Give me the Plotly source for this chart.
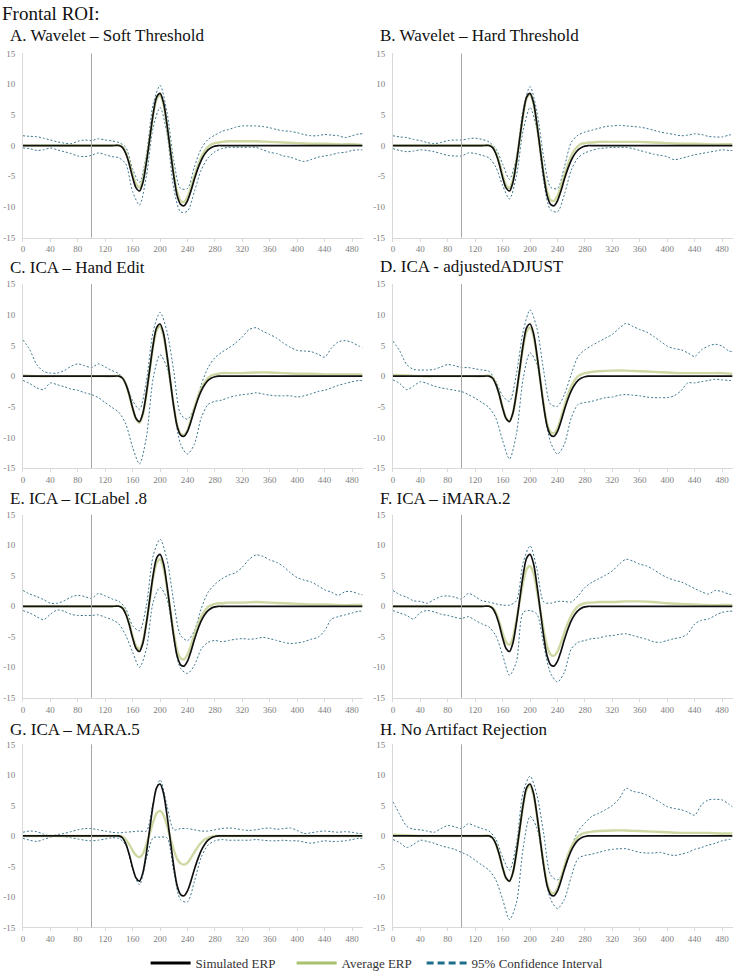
import plotly.graph_objects as go

# ---------------- data ----------------
t_erp = [0, 20, 40, 60, 80, 100, 120, 130,
         140, 145, 150, 155, 160, 165, 170, 175, 180, 185, 190, 195, 200, 205, 210, 215, 220,
         225, 230, 235, 240, 245, 250, 255, 260, 265, 270, 275, 280, 285, 290,
         300, 320, 340, 360, 380, 400, 420, 440, 460, 480, 495]

t_ci = [0, 10, 20, 30, 40, 50, 60, 70, 80, 90, 100, 110, 120, 130, 140, 150, 160, 170, 180, 190,
        200, 210, 220, 230, 240, 250, 260, 270, 280, 290, 300, 310, 320, 330, 340, 350, 360, 370,
        380, 390, 400, 410, 420, 430, 440, 450, 460, 470, 480, 490, 495]

sim_erp = [0, 0, 0, 0, 0, 0, 0, 0,
           0, -0.3, -1.3, -3.0, -5.2, -6.9, -7.4, -6.0, -2.8, 1.2, 5.2, 7.9, 8.5, 7.0, 3.5, -0.8, -5.0,
           -8.2, -9.6, -9.8, -9.0, -7.4, -5.5, -3.8, -2.4, -1.4, -0.7, -0.3, -0.1, 0, 0,
           0, 0, 0, 0, 0, 0, 0, 0, 0, 0, 0]

avg_A = [0, 0, 0, 0, 0, 0, 0, 0,
         0.05, -0.2, -1.1, -2.7, -4.7, -6.3, -6.8, -5.5, -2.5, 1.2, 5.0, 7.6, 8.2, 6.7, 3.3, -0.7, -4.6,
         -7.6, -9.0, -9.2, -8.4, -6.8, -5.0, -3.3, -1.9, -0.9, -0.2, 0.2, 0.4, 0.5, 0.6,
         0.7, 0.7, 0.7, 0.6, 0.5, 0.4, 0.3, 0.3, 0.2, 0.2, 0.1]
avg_B = [0, 0, 0, 0, 0, 0, 0, 0,
         0.05, -0.2, -1.1, -2.7, -4.8, -6.4, -6.9, -5.6, -2.6, 1.2, 5.0, 7.7, 8.3, 6.8, 3.3, -0.7, -4.6,
         -7.5, -8.9, -9.0, -8.2, -6.6, -4.8, -3.1, -1.7, -0.7, -0.1, 0.3, 0.4, 0.5, 0.5,
         0.6, 0.6, 0.6, 0.6, 0.5, 0.4, 0.3, 0.3, 0.2, 0.2, 0.2]
avg_C = [0.1, 0, 0, 0, 0, 0, 0, 0,
         0.05, -0.3, -1.3, -3.1, -5.3, -7.0, -7.6, -6.2, -3.0, 1.0, 4.9, 7.5, 8.1, 6.6, 3.2, -0.8, -4.9,
         -8.0, -9.4, -9.6, -8.8, -7.1, -5.2, -3.4, -2.0, -1.0, -0.3, 0.1, 0.3, 0.4, 0.5,
         0.5, 0.5, 0.6, 0.6, 0.5, 0.4, 0.4, 0.3, 0.3, 0.3, 0.3]
avg_D = [0.2, 0.1, 0, 0, 0, 0, 0, 0,
         0.1, -0.2, -1.2, -2.9, -5.1, -6.8, -7.3, -6.0, -2.9, 1.0, 4.8, 7.3, 7.9, 6.5, 3.2, -0.7, -4.7,
         -7.8, -9.1, -9.3, -8.5, -6.8, -4.9, -3.1, -1.7, -0.7, 0.0, 0.3, 0.5, 0.6, 0.7,
         0.8, 0.9, 0.9, 0.8, 0.7, 0.6, 0.5, 0.5, 0.5, 0.5, 0.4]
avg_E = [0, 0, 0, 0, 0, 0, 0, 0,
         0.05, -0.2, -1.1, -2.8, -4.9, -6.5, -7.0, -5.7, -2.7, 1.0, 4.7, 7.1, 7.7, 6.3, 3.1, -0.6, -4.4,
         -7.3, -8.5, -8.7, -7.9, -6.4, -4.6, -3.0, -1.7, -0.8, -0.1, 0.2, 0.4, 0.5, 0.5,
         0.6, 0.6, 0.7, 0.6, 0.5, 0.4, 0.3, 0.3, 0.2, 0.2, 0.2]
avg_F = [0, 0, 0, 0, 0, 0, 0, 0,
         0.05, -0.2, -1.0, -2.5, -4.4, -5.9, -6.3, -5.1, -2.3, 0.9, 4.0, 6.1, 6.6, 5.4, 2.6, -0.6, -4.0,
         -6.6, -7.9, -8.1, -7.4, -6.0, -4.3, -2.8, -1.5, -0.6, 0.0, 0.3, 0.5, 0.6, 0.6,
         0.7, 0.7, 0.8, 0.8, 0.7, 0.5, 0.4, 0.3, 0.2, 0.2, 0.2]
avg_G = [0, 0, 0, 0, 0, 0, 0, 0,
         0.0, -0.1, -0.6, -1.4, -2.4, -3.2, -3.5, -2.9, -1.4, 0.4, 2.3, 3.7, 4.1, 3.4, 1.7, -0.3, -2.3,
         -3.8, -4.5, -4.7, -4.4, -3.6, -2.7, -1.8, -1.1, -0.6, -0.3, -0.1, 0.0, 0.0, 0.0,
         0, 0, 0, 0, 0, 0, 0, 0, 0, 0, 0]
avg_H = [0.2, 0.1, 0, 0, 0, 0, 0, 0,
         0.05, -0.3, -1.3, -3.0, -5.2, -6.9, -7.4, -6.1, -2.9, 1.1, 5.0, 7.6, 8.2, 6.7, 3.3, -0.7, -4.7,
         -7.8, -9.2, -9.4, -8.6, -6.9, -5.0, -3.2, -1.8, -0.8, -0.1, 0.3, 0.5, 0.6, 0.7,
         0.8, 0.9, 0.9, 0.8, 0.7, 0.6, 0.5, 0.5, 0.5, 0.4, 0.4]

ci_hi_A = [1.6, 1.5, 1.45, 1.2, 0.9, 0.6, 0.4, 0.3, 0.7, 0.9, 0.8, 1.1, 0.9, 0.75, 0.5, -0.3, -3.8,
           -6.0, -1.5, 6.8, 9.8, 5.5, -2.5, -7.0, -7.0, -3.5, -0.5, 1.0, 1.7, 2.3, 2.6, 3.0, 3.2, 3.2,
           3.2, 3.1, 2.9, 2.6, 2.4, 2.3, 2.1, 1.8, 1.6, 1.6, 1.8, 1.7, 1.6, 1.3, 1.6, 1.9, 1.9]
ci_lo_A = [-0.4, -0.5, -0.8, -0.7, -0.4, -0.7, -1.0, -1.3, -1.7, -1.8, -1.6, -1.2, -1.5, -1.8, -2.0,
           -3.0, -7.5, -9.7, -5.0, 3.0, 6.2, 2.0, -7.0, -10.8, -10.7, -7.5, -4.0, -2.0, -1.0, -0.5,
           -0.3, -0.3, -0.3, -0.3, -0.3, -0.7, -1.1, -1.3, -1.7, -1.9, -2.3, -2.6, -2.3, -1.9, -1.7,
           -1.5, -1.2, -1.1, -0.8, -0.7, -0.7]
ci_hi_B = [1.6, 1.4, 1.3, 1.0, 0.8, 0.5, 0.3, 0.5, 0.8, 0.9, 0.9, 1.1, 1.2, 1.0, 0.6, -0.5, -3.0,
           -5.5, -2.0, 6.0, 9.6, 5.5, -2.0, -6.8, -7.0, -3.5, 0.5, 1.7, 2.2, 2.5, 2.8, 3.1, 3.2, 3.3,
           3.2, 3.1, 3.0, 2.8, 2.5, 2.2, 2.0, 1.8, 1.6, 1.7, 1.9, 1.8, 1.5, 1.4, 1.4, 1.7, 1.8]
ci_lo_B = [-0.5, -0.8, -1.0, -0.9, -0.7, -0.8, -1.0, -1.3, -1.6, -1.7, -1.7, -1.2, -1.3, -1.6, -2.0,
           -3.5, -6.5, -8.7, -5.0, 2.5, 6.2, 2.5, -6.0, -10.5, -10.8, -8.0, -4.0, -2.0, -1.2, -0.8,
           -0.5, -0.4, -0.3, -0.3, -0.3, -0.5, -0.8, -1.1, -1.4, -1.6, -1.8, -2.3, -2.1, -1.8, -1.5,
           -1.3, -1.1, -0.9, -0.7, -0.8, -0.8]
ci_hi_C = [5.9, 4.3, 1.9, 0.8, 0.5, 0.5, 0.9, 1.6, 2.0, 1.7, 1.4, 2.0, 1.5, 0.9, 0.4, -1.1, -4.0,
           -5.4, -0.8, 7.3, 10.4, 7.3, 0.8, -6.2, -7.0, -5.1, -1.4, 1.4, 3.0, 3.9, 4.6, 5.4, 6.4, 7.6,
           7.9, 7.3, 6.8, 6.2, 5.4, 4.7, 4.2, 4.1, 4.0, 3.6, 3.1, 4.6, 5.6, 5.8, 5.5, 4.9, 4.7]
ci_lo_C = [-0.7, -1.2, -1.9, -2.2, -1.1, -1.4, -1.7, -2.1, -2.3, -2.7, -3.0, -3.5, -4.3, -5.1, -5.9,
           -7.8, -11.6, -14.3, -10.0, -0.3, 3.5, 1.4, -5.1, -11.1, -12.7, -11.1, -6.8, -4.6, -4.1,
           -3.9, -3.5, -3.2, -3.0, -2.9, -2.7, -2.9, -3.1, -3.2, -3.2, -3.2, -3.4, -3.2, -2.9, -2.5,
           -2.3, -1.9, -1.5, -1.2, -0.9, -0.7, -0.7]
ci_hi_D = [5.7, 4.1, 1.9, 1.1, 1.0, 1.0, 1.1, 1.5, 1.9, 1.7, 1.4, 1.4, 1.2, 1.0, 0.8, -0.8, -3.2,
           -4.1, 0.3, 7.3, 10.8, 7.8, 0.8, -4.6, -4.9, -3.0, 0.3, 3.2, 4.3, 5.0, 5.6, 6.2, 6.8, 7.8,
           8.6, 8.1, 7.6, 7.2, 6.5, 5.7, 4.9, 4.5, 4.3, 3.8, 3.2, 4.3, 4.9, 5.2, 4.9, 4.1, 4.0]
ci_lo_D = [-0.6, -1.2, -2.2, -1.6, -0.9, -1.2, -1.6, -1.9, -2.1, -2.3, -2.5, -3.0, -3.6, -4.3, -5.1,
           -6.8, -10.5, -13.5, -9.5, -0.3, 3.8, 1.9, -5.1, -10.8, -12.7, -11.1, -6.8, -4.6, -4.3,
           -4.1, -3.8, -3.5, -3.4, -3.1, -3.0, -3.1, -3.2, -3.4, -3.5, -3.5, -3.5, -3.2, -2.4, -1.1,
           -1.1, -0.9, -0.7, -0.5, -0.6, -0.7, -0.7]
ci_hi_E = [2.6, 2.0, 1.6, 1.1, 0.5, 0.5, 0.9, 1.5, 1.8, 1.6, 1.3, 2.1, 1.7, 1.2, 0.8, -0.4, -3.2,
           -4.0, 0.1, 8.3, 11.0, 7.7, 0.7, -4.8, -5.6, -4.0, -0.4, 2.3, 3.6, 4.5, 5.1, 5.5, 6.4, 7.7,
           8.4, 8.2, 7.6, 7.2, 6.5, 5.5, 4.7, 4.3, 4.0, 3.4, 2.7, 2.3, 1.8, 2.4, 2.4, 2.0, 1.9]
ci_lo_E = [-0.7, -1.1, -1.7, -2.2, -1.3, -0.6, -0.8, -1.3, -1.5, -1.5, -1.5, -1.4, -1.8, -2.2, -2.9,
           -4.8, -7.5, -10.0, -7.0, 0.7, 3.1, 1.2, -5.3, -10.2, -11.0, -9.7, -7.0, -5.9, -5.6, -5.8,
           -5.6, -5.4, -5.3, -5.4, -5.3, -5.1, -5.3, -5.6, -5.9, -6.1, -6.0, -5.8, -5.4, -5.1, -4.0,
           -2.1, -1.7, -1.4, -1.1, -0.8, -0.8]
ci_hi_F = [2.6, 1.9, 1.5, 0.9, 0.8, 0.5, 1.1, 1.6, 1.7, 1.5, 1.2, 2.1, 1.6, 0.9, 0.7, 0.4, 0.2,
           0.2, 0.9, 7.2, 9.9, 6.1, 0.7, 0.5, 0.8, 0.8, 0.7, 1.7, 3.1, 3.9, 4.5, 5.1, 5.8, 6.9, 7.7,
           7.4, 6.9, 6.6, 6.0, 5.3, 4.7, 4.3, 4.0, 3.5, 2.9, 2.4, 2.0, 2.6, 2.4, 2.0, 1.9]
ci_lo_F = [-0.7, -1.1, -1.5, -2.1, -1.0, -0.7, -0.9, -1.3, -1.5, -1.8, -2.0, -1.7, -2.3, -2.9, -3.4,
           -4.8, -8.0, -11.3, -9.1, -1.0, -0.7, -1.3, -6.4, -11.0, -12.4, -10.8, -7.0, -5.9, -5.6,
           -5.3, -5.2, -4.9, -4.8, -4.6, -4.5, -4.8, -5.1, -5.4, -5.8, -5.9, -5.6, -5.3, -5.1, -4.5,
           -2.9, -2.3, -2.1, -1.5, -1.0, -0.8, -0.8]
ci_hi_G = [0.6, 0.8, 0.7, 0.3, 0.0, 0.2, 0.4, 0.7, 1.0, 1.2, 1.2, 1.0, 0.8, 0.6, 0.5, 0.6, 0.7,
           0.8, 0.8, 5.5, 9.2, 5.0, 1.0, 1.2, 1.2, 1.0, 0.8, 0.8, 1.0, 1.2, 1.3, 1.2, 1.0, 0.9, 1.0,
           1.2, 1.3, 1.1, 1.2, 1.3, 0.9, 0.4, 0.5, 0.7, 0.8, 0.7, 0.6, 0.7, 0.6, 0.4, 0.4]
ci_lo_G = [-0.4, -0.7, -0.9, -0.6, -0.2, 0.0, -0.1, -0.3, -0.5, -0.7, -0.8, -0.7, -0.5, -0.3, -0.4,
           -1.5, -5.5, -8.0, -3.8, -0.3, -0.2, -0.3, -5.8, -10.5, -10.8, -7.5, -3.5, -1.5, -0.8, -0.6,
           -0.7, -0.7, -0.7, -0.7, -0.6, -0.7, -0.8, -0.8, -0.7, -0.8, -0.8, -1.0, -1.2, -1.0, -0.8,
           -0.9, -0.9, -0.8, -0.6, -0.4, -0.4]
ci_hi_H = [5.6, 3.5, 1.6, 1.1, 1.0, 0.8, 0.6, 1.2, 1.7, 1.5, 1.2, 2.0, 1.6, 1.2, 0.8, -0.5, -3.5,
           -5.6, -1.3, 7.2, 9.8, 6.7, 0.3, -6.4, -7.2, -5.6, -1.9, 0.8, 2.1, 3.2, 3.7, 4.3, 5.0, 6.1,
           7.8, 7.3, 7.1, 6.7, 6.1, 5.5, 4.8, 4.5, 4.3, 3.9, 3.4, 5.1, 5.9, 6.0, 5.9, 5.2, 4.8]
ci_lo_H = [-0.6, -1.1, -1.9, -1.4, -0.7, -0.9, -1.2, -1.6, -1.9, -2.2, -2.7, -3.2, -4.0, -4.8, -5.6,
           -7.2, -10.4, -13.7, -11.0, -1.9, 3.2, 1.3, -5.1, -10.4, -11.9, -10.4, -6.7, -3.7, -3.2,
           -3.0, -2.7, -2.4, -2.2, -2.1, -2.1, -2.4, -2.7, -2.8, -2.8, -2.7, -3.0, -3.2, -3.0, -2.7,
           -2.2, -1.9, -1.5, -1.2, -0.8, -0.6, -0.6]

panel_titles = ["A. Wavelet – Soft Threshold", "B. Wavelet – Hard Threshold",
                "C. ICA – Hand Edit", "D. ICA - adjustedADJUST",
                "E. ICA – ICLabel .8", "F. ICA – iMARA.2",
                "G. ICA – MARA.5", "H. No Artifact Rejection"]
avg_series = [avg_A, avg_B, avg_C, avg_D, avg_E, avg_F, avg_G, avg_H]
ci_hi_series = [ci_hi_A, ci_hi_B, ci_hi_C, ci_hi_D, ci_hi_E, ci_hi_F, ci_hi_G, ci_hi_H]
ci_lo_series = [ci_lo_A, ci_lo_B, ci_lo_C, ci_lo_D, ci_lo_E, ci_lo_F, ci_lo_G, ci_lo_H]

x_ticks = [0, 40, 80, 120, 160, 200, 240, 280, 320, 360, 400, 440, 480]
y_ticks = [-15, -10, -5, 0, 5, 10, 15]
y_ticktext = ["-15", "-10", "-5", "0", "5", "10", "15"]
stim_onset = 100
legend_names = ["Simulated ERP", "Average ERP", "95% Confidence Interval"]

# ---------------- styling ----------------
W, H = 739, 979
FONT = "'Liberation Serif', 'Times New Roman', serif"
C_SIM = "#111111"
C_AVG = "#cdd8a2"
C_CI = "#3f7890"
C_AX = "#d9d9d9"
C_TICK = "#808080"

col_px = [(21, 362), (392, 733)]
row_px = [(49, 235), (282, 468), (515, 700), (747, 932)]
title_pos = [(6, 31), (377, 31), (6, 265), (377, 264), (6, 499), (377, 499), (6, 732), (377, 732)]

fig = go.Figure()
layout = dict()

for i in range(8):
    r, c = divmod(i, 2)
    n = i + 1
    xa = "x" if n == 1 else f"x{n}"
    ya = "y" if n == 1 else f"y{n}"
    fig.add_trace(go.Scatter(x=t_ci, y=ci_hi_series[i], mode="lines", xaxis=xa, yaxis=ya,
                             line=dict(color=C_CI, width=1, dash="2px,2px", shape="spline", smoothing=0.8),
                             showlegend=False, hoverinfo="skip"))
    fig.add_trace(go.Scatter(x=t_ci, y=ci_lo_series[i], mode="lines", xaxis=xa, yaxis=ya,
                             line=dict(color=C_CI, width=1, dash="2px,2px", shape="spline", smoothing=0.8),
                             showlegend=False, hoverinfo="skip"))
    fig.add_trace(go.Scatter(x=t_erp, y=avg_series[i], mode="lines", xaxis=xa, yaxis=ya,
                             line=dict(color=C_AVG, width=2.4, shape="spline", smoothing=0.8),
                             showlegend=False, hoverinfo="skip"))
    fig.add_trace(go.Scatter(x=t_erp, y=sim_erp, mode="lines", xaxis=xa, yaxis=ya,
                             line=dict(color=C_SIM, width=1.7, shape="spline", smoothing=0.8),
                             showlegend=False, hoverinfo="skip"))

    x0, x1 = col_px[c]
    y0, y1 = row_px[r]
    xkey = "xaxis" if n == 1 else f"xaxis{n}"
    ykey = "yaxis" if n == 1 else f"yaxis{n}"
    layout[xkey] = dict(domain=[x0 / W, x1 / W], anchor=ya, range=[0, 496],
                        tickvals=x_ticks, showgrid=False, zeroline=False,
                        showline=True, linecolor=C_AX, linewidth=1,
                        ticks="outside", ticklen=3, tickcolor=C_AX,
                        tickfont=dict(family=FONT, size=9, color=C_TICK))
    layout[ykey] = dict(domain=[1 - y1 / H, 1 - y0 / H], anchor=xa, range=[-15, 15],
                        tickvals=y_ticks, ticktext=y_ticktext, showgrid=False, zeroline=False,
                        showline=True, linecolor=C_AX, linewidth=1, ticks="",
                        ticklabelstandoff=5,
                        tickfont=dict(family=FONT, size=9, color=C_TICK))
    fig.add_shape(type="line", xref=xa, yref=f"{ya} domain", x0=stim_onset, x1=stim_onset,
                  y0=0, y1=1, line=dict(color="#a6a6a6", width=1))
    tx, ty = title_pos[i]
    fig.add_annotation(x=tx / W, y=1 - ty / H, xref="paper", yref="paper", xanchor="left",
                       yanchor="middle", text=panel_titles[i], showarrow=False,
                       font=dict(family=FONT, size=17, color="#111111"))

fig.add_annotation(x=-2 / W, y=1 - 9 / H, xref="paper", yref="paper", xanchor="left",
                   yanchor="middle", text="Frontal ROI:", showarrow=False,
                   font=dict(family=FONT, size=19, color="#111111"))

# legend entries
fig.add_trace(go.Scatter(x=[None], y=[None], mode="lines", name=legend_names[0], legendwidth=91,
                         line=dict(color="#000000", width=3)))
fig.add_trace(go.Scatter(x=[None], y=[None], mode="lines", name=legend_names[1], legendwidth=75,
                         line=dict(color="#a9c06c", width=3)))
fig.add_trace(go.Scatter(x=[None], y=[None], mode="lines", name=legend_names[2], legendwidth=140,
                         line=dict(color="#1c6e8c", width=3, dash="7px,4px")))

fig.update_layout(**layout)
fig.update_layout(
    width=W, height=H, margin=dict(l=0, r=0, t=0, b=0),
    paper_bgcolor="white", plot_bgcolor="white",
    showlegend=True,
    legend=dict(orientation="h", x=144 / W, xanchor="left", y=1 - 968 / H, yanchor="middle",
                font=dict(family=FONT, size=13, color="#333333"), itemwidth=40,
                entrywidthmode="pixels",
                tracegroupgap=0, bgcolor="rgba(0,0,0,0)"),
)

fig.write_html("out.html", config={"displayModeBar": False},
               post_script="document.body.style.margin='0px';document.body.style.padding='0px';document.body.style.overflow='hidden';")
